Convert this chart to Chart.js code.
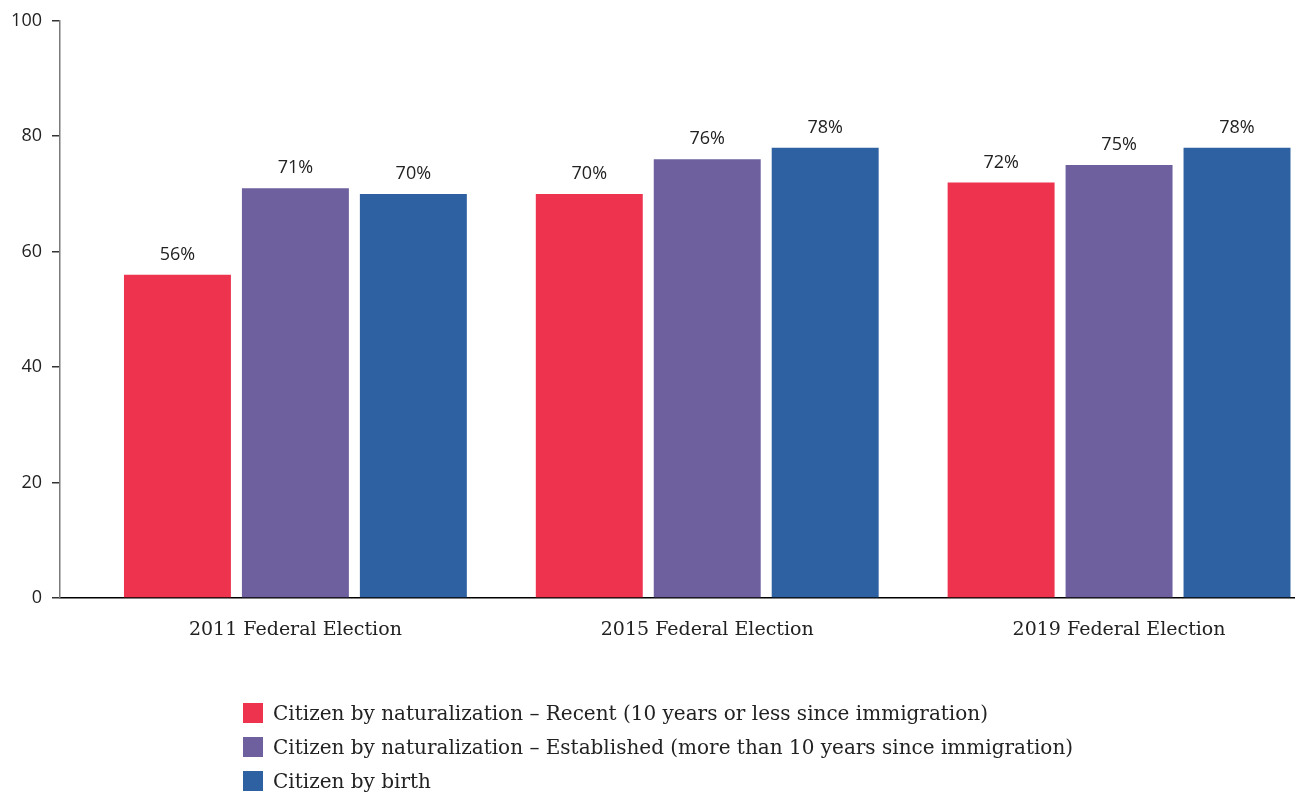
<!DOCTYPE html>
<html>
<head>
<meta charset="utf-8">
<script src="https://cdn.jsdelivr.net/npm/chart.js@4.4.1/dist/chart.umd.min.js"></script>
<style>
  html, body { margin: 0; padding: 0; background: #fff; }
  #wrap { position: relative; width: 1295px; height: 793px; }
  #legend { position: absolute; left: 243px; top: 696px; font-family: "DejaVu Serif", serif; font-size: 20px; color: #222; }
  .item { display: flex; align-items: center; height: 34px; }
  .box { width: 20px; height: 20px; margin-right: 10px; }
</style>
</head>
<body>
<div id="wrap">
  <canvas id="c" width="1295" height="793"></canvas>
  <div id="legend"></div>
</div>
<script>
const categories = ["2011 Federal Election", "2015 Federal Election", "2019 Federal Election"];
const seriesNames = [
  "Citizen by naturalization \u2013 Recent (10 years or less since immigration)",
  "Citizen by naturalization \u2013 Established (more than 10 years since immigration)",
  "Citizen by birth"
];
const recent = [56, 70, 72];
const established = [71, 76, 75];
const birth = [70, 78, 78];
const yTicks = [0, 20, 40, 60, 80, 100];
const colors = ["#EE334E", "#6E609E", "#2E61A1"];

const seriesValues = [recent, established, birth];
const datasets = seriesValues.map((vals, i) => ({
  label: seriesNames[i],
  data: vals.map((v, j) => ({ x: j, y: v })),
  backgroundColor: colors[i],
  borderWidth: 0,
  categoryPercentage: 354 / 412,
  barPercentage: 107 / 118
}));

const valueLabels = {
  id: 'valueLabels',
  afterDatasetsDraw(chart) {
    const ctx = chart.ctx;
    ctx.save();
    ctx.font = '18px "Open Sans", sans-serif';
    ctx.fillStyle = '#222';
    ctx.textAlign = 'center';
    ctx.textBaseline = 'bottom';
    chart.data.datasets.forEach((ds, i) => {
      chart.getDatasetMeta(i).data.forEach((bar, j) => {
        ctx.fillText(seriesValues[i][j] + '%', bar.x, bar.y - 11);
      });
    });
    ctx.restore();
  }
};

new Chart(document.getElementById('c'), {
  type: 'bar',
  data: { datasets },
  plugins: [valueLabels],
  options: {
    responsive: false,
    animation: false,
    layout: { padding: { top: 18, right: 0, left: 0, bottom: 0 } },
    plugins: { legend: { display: false }, tooltip: { enabled: false } },
    scales: {
      x: {
        type: 'linear',
        offset: false,
        min: -0.5716,
        max: 2.4272,
        afterBuildTicks(axis) { axis.ticks = categories.map((_, i) => ({ value: i })); },
        afterFit(axis) { axis.height = 195; },
        grid: { display: false, drawTicks: false },
        border: { color: '#000', width: 1.5 },
        ticks: {
          autoSkip: false,
          maxRotation: 0,
          padding: 21,
          color: '#222',
          font: { family: '"DejaVu Serif", serif', size: 19 },
          callback: (v) => categories[v] ?? ''
        }
      },
      y: {
        min: 0,
        max: 100,
        afterBuildTicks(axis) { axis.ticks = yTicks.map(v => ({ value: v })); },
        afterFit(axis) { axis.width = 60; },
        grid: { drawOnChartArea: false, drawTicks: true, tickLength: 8, color: '#333', lineWidth: 1.5 },
        border: { color: '#7a7a7a', width: 1.5 },
        ticks: {
          padding: 10,
          color: '#222',
          font: { family: '"Open Sans", sans-serif', size: 18 }
        }
      }
    }
  }
});

const legend = document.getElementById('legend');
seriesNames.forEach((name, i) => {
  const item = document.createElement('div');
  item.className = 'item';
  const box = document.createElement('span');
  box.className = 'box';
  box.style.background = colors[i];
  const txt = document.createElement('span');
  txt.textContent = name;
  item.appendChild(box);
  item.appendChild(txt);
  legend.appendChild(item);
});
</script>
</body>
</html>
